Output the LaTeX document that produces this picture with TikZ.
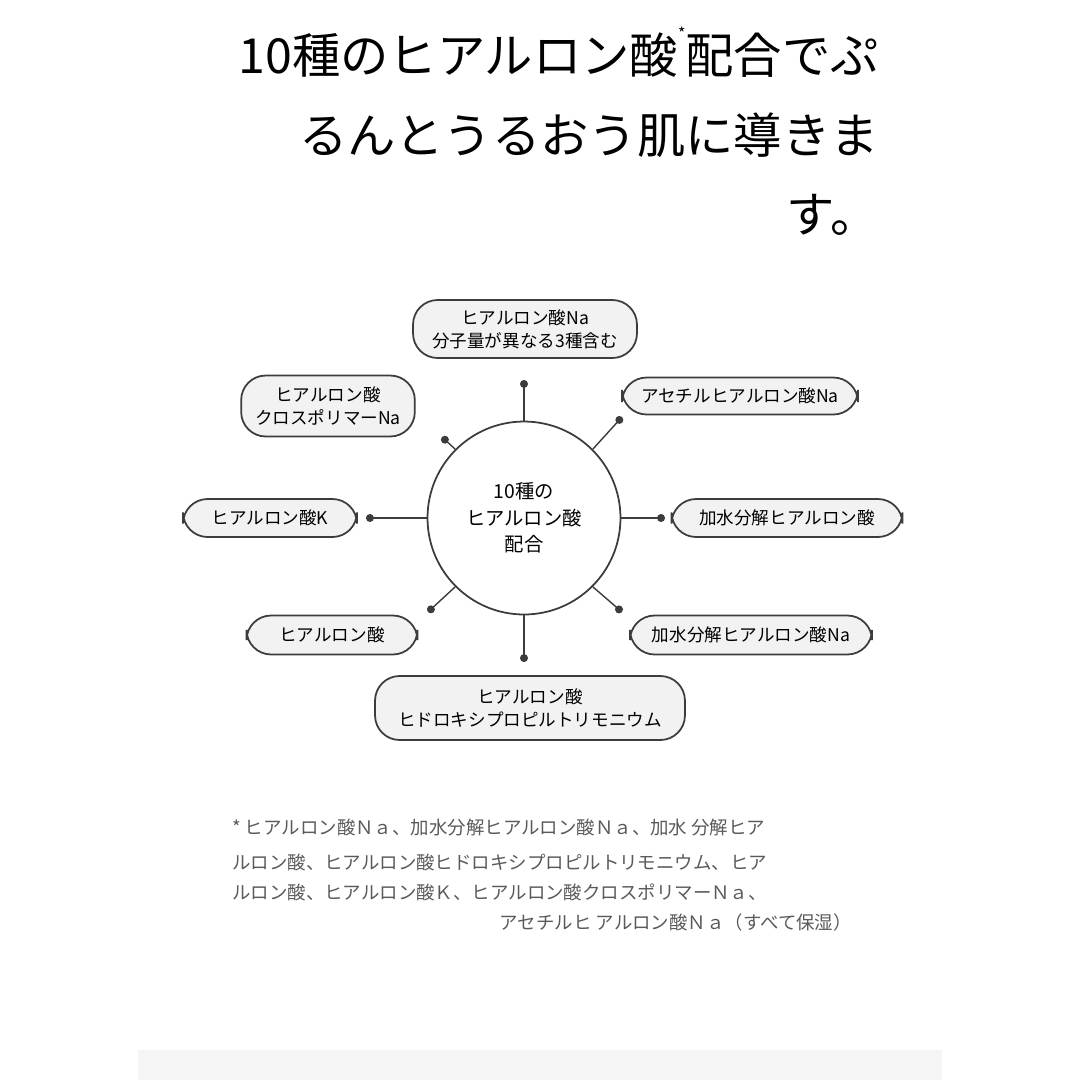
\documentclass[tikz,border=0pt]{standalone}
\usepackage{fontspec}
\setmainfont{Noto Sans CJK JP}
\usetikzlibrary{arrows.meta, positioning}
\definecolor{boxFg}{RGB}{60, 60, 60}
\definecolor{boxBg}{RGB}{242, 242, 242}
\definecolor{noteFg}{RGB}{90, 90, 90}
\definecolor{bandBg}{RGB}{245, 245, 245}
\tikzset{
  pill/.style = {rounded corners=14pt, draw=boxFg, line width=1pt, fill=boxBg, text=black,
                 font=\fontsize{10}{13}\selectfont, align=center, inner xsep=8pt},
  hubnode/.style = {circle, draw=boxFg, line width=1pt, fill=white, minimum size=3.86cm,
                 font=\fontsize{11}{15}\selectfont, align=center},
  spoke/.style = {line width=0.8pt, draw=boxFg, -{Circle[length=4.5pt]}},
  title/.style = {font=\fontsize{27.5}{30}\selectfont, anchor=east},
  note/.style = {font=\fontsize{10.5}{12}\selectfont, text=noteFg, anchor=west}
}
\begin{document}
\begin{tikzpicture}[x=0.02cm, y=-0.02cm]
\useasboundingbox (0,0) rectangle (1080,1080);

% title
\node (t1) [title] at (885,52) {10種のヒアルロン酸\raisebox{0.7em}{\fontsize{9}{9}\selectfont *}配合でぷ};
\node (t2) [title] at (885,135) {るんとうるおう肌に導きま};
\node (t3) [title] at (885,215) {す。};

% hub and boxes
\node (hub) [hubnode] at (524,518) {10種の\\ヒアルロン酸\\配合};
\node (bTop) [pill, minimum width=4.48cm, minimum height=1.16cm] at (525,329) {ヒアルロン酸Na\\分子量が異なる3種含む};
\node (bTL) [pill, minimum width=3.36cm, minimum height=1.22cm] at (328,406) {ヒアルロン酸\\クロスポリマーNa};
\node (bTR) [pill, minimum width=4.72cm, minimum height=0.74cm] at (740,396) {アセチルヒアルロン酸Na};
\node (bL) [pill, minimum width=3.48cm, minimum height=0.76cm] at (270,518) {ヒアルロン酸K};
\node (bR) [pill, minimum width=4.62cm, minimum height=0.76cm] at (787,518) {加水分解ヒアルロン酸};
\node (bBL) [pill, minimum width=3.42cm, minimum height=0.78cm] at (332,635) {ヒアルロン酸};
\node (bBR) [pill, minimum width=4.84cm, minimum height=0.78cm] at (751,635) {加水分解ヒアルロン酸Na};
\node (bBot) [pill, minimum width=6.2cm, minimum height=1.28cm] at (530,708) {ヒアルロン酸\\ヒドロキシプロピルトリモニウム};

% spokes
\coordinate (dTop) at (524,380);
\coordinate (dTL) at (442,437);
\coordinate (dTR) at (622,417);
\coordinate (dL) at (366,518);
\coordinate (dR) at (665,518);
\coordinate (dBL) at (428,612);
\coordinate (dBR) at (622,612);
\coordinate (dBot) at (524,662);
\draw [spoke] (hub.north) -- (dTop);
\draw [spoke] (hub.north west) -- (dTL);
\draw [spoke] (hub.north east) -- (dTR);
\draw [spoke] (hub.west) -- (dL);
\draw [spoke] (hub.east) -- (dR);
\draw [spoke] (hub.south west) -- (dBL);
\draw [spoke] (hub.south east) -- (dBR);
\draw [spoke] (hub.south) -- (dBot);

% footnote
\node (n1) [note] at (226,828) {* ヒアルロン酸Ｎａ、加水分解ヒアルロン酸Ｎａ、加水 分解ヒア};
\node (n2) [note] at (226,862) {ルロン酸、ヒアルロン酸ヒドロキシプロピルトリモニウム、ヒア};
\node (n3) [note] at (226,892) {ルロン酸、ヒアルロン酸Ｋ、ヒアルロン酸クロスポリマーＮａ、};
\node (n4) [note, anchor=east] at (858,922) {アセチルヒ アルロン酸Ｎａ（すべて保湿）};

% band
\fill [bandBg] (138,1050) rectangle (942,1080);
\end{tikzpicture}
\end{document}
